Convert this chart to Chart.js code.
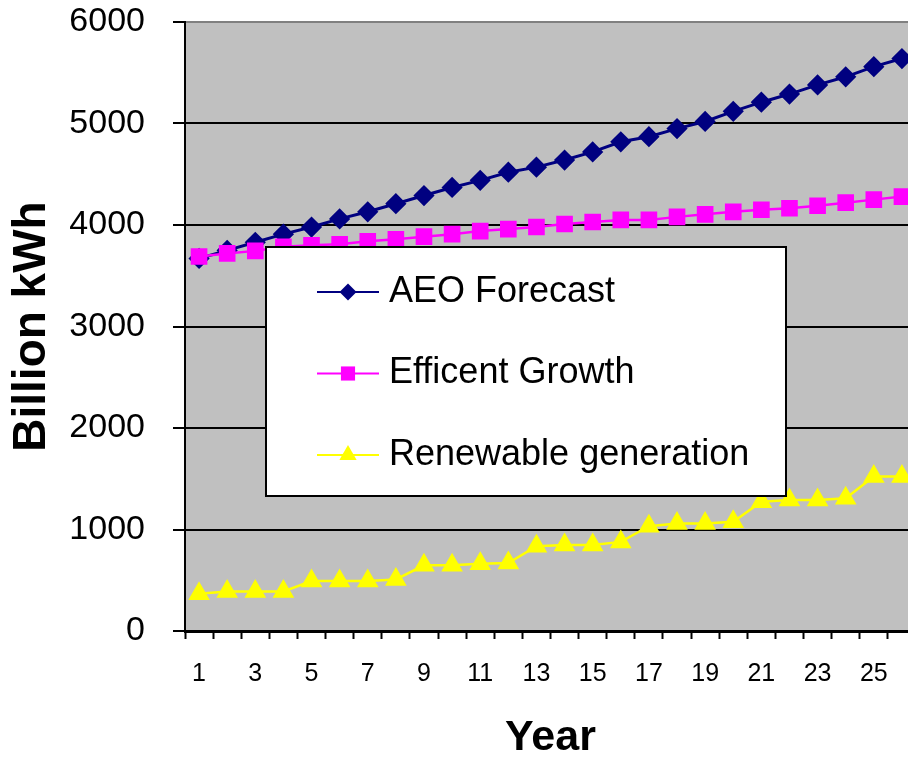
<!DOCTYPE html>
<html>
<head>
<meta charset="utf-8">
<script src="https://cdn.jsdelivr.net/npm/chart.js@4.4.1/dist/chart.umd.min.js"></script>
<style>
  html, body { margin: 0; padding: 0; background: #fff; overflow: hidden; }
  #energyChart { position: absolute; left: 0; top: 0; }
</style>
</head>
<body>
<canvas id="energyChart" width="916" height="760"></canvas>
<script>
// data
const years = [1,2,3,4,5,6,7,8,9,10,11,12,13,14,15,16,17,18,19,20,21,22,23,24,25,26];
const aeoForecast = [3670,3750,3830,3910,3980,4060,4130,4210,4290,4370,4440,4520,4570,4640,4720,4820,4870,4950,5020,5120,5210,5290,5380,5460,5560,5640];
const efficientGrowth = [3690,3720,3745,3785,3800,3810,3840,3860,3885,3910,3940,3960,3980,4010,4030,4050,4050,4080,4105,4130,4150,4165,4190,4220,4250,4280];
const renewableGen = [366,389,389,389,492,492,492,508,647,647,663,670,835,848,848,878,1033,1059,1059,1076,1274,1290,1290,1307,1521,1521];
const yTicks = [0,1000,2000,3000,4000,5000,6000];

const FONT = "'Liberation Sans', Arial, sans-serif";

// grey plot background
const plotBg = {
    id: 'plotBg',
    beforeDraw(chart) {
        const a = chart.chartArea;
        const ctx = chart.ctx;
        ctx.save();
        ctx.fillStyle = '#C0C0C0';
        ctx.fillRect(a.left, a.top, a.right - a.left, a.bottom - a.top);
        ctx.restore();
    }
};

function marker(ctx, style, x, y, r) {
    ctx.beginPath();
    if (style === 'rectRot') {
        ctx.moveTo(x - r, y); ctx.lineTo(x, y - r); ctx.lineTo(x + r, y); ctx.lineTo(x, y + r);
    } else if (style === 'rect') {
        const s = r * 0.707;
        ctx.rect(x - s, y - s, s * 2, s * 2);
    } else {
        ctx.moveTo(x, y - r); ctx.lineTo(x + r * 0.866, y + r * 0.5); ctx.lineTo(x - r * 0.866, y + r * 0.5);
    }
    ctx.closePath();
    ctx.fill();
}

// legend box sitting inside the plot
const legendBox = {
    id: 'legendBox',
    afterDraw(chart, args, o) {
        const ctx = chart.ctx;
        ctx.save();
        ctx.fillStyle = '#fff';
        ctx.strokeStyle = '#000';
        ctx.lineWidth = 2;
        ctx.fillRect(o.x, o.y, o.w, o.h);
        ctx.strokeRect(o.x, o.y, o.w, o.h);
        chart.data.datasets.forEach(function (ds, i) {
            const y = o.y + o.firstRow + i * o.rowGap;
            ctx.strokeStyle = ds.borderColor;
            ctx.lineWidth = 2;
            ctx.beginPath();
            ctx.moveTo(o.x + 51, y);
            ctx.lineTo(o.x + 113, y);
            ctx.stroke();
            ctx.fillStyle = ds.backgroundColor;
            marker(ctx, ds.pointStyle, o.x + 82, y, ds.pointRadius);
            ctx.fillStyle = '#000';
            ctx.font = '36px ' + FONT;
            ctx.textBaseline = 'middle';
            ctx.textAlign = 'left';
            ctx.fillText(ds.label, o.x + 123, y);
        });
        ctx.restore();
    }
};

const ctx = document.getElementById('energyChart').getContext('2d');
new Chart(ctx, {
    type: 'line',
    data: {
        labels: years,
        datasets: [
            {
                label: 'AEO Forecast',
                data: aeoForecast,
                borderColor: '#000080',
                backgroundColor: '#000080',
                borderWidth: 3,
                pointStyle: 'rectRot',
                pointRadius: 8.5,
                order: 2
            },
            {
                label: 'Efficent Growth',
                data: efficientGrowth,
                borderColor: '#FF00FF',
                backgroundColor: '#FF00FF',
                borderWidth: 2.5,
                pointStyle: 'rect',
                pointRadius: 10,
                order: 1
            },
            {
                label: 'Renewable generation',
                data: renewableGen,
                borderColor: '#FFFF00',
                backgroundColor: '#FFFF00',
                borderWidth: 2.5,
                pointStyle: 'triangle',
                pointRadius: 10,
                order: 3
            }
        ]
    },
    options: {
        responsive: false,
        animation: false,
        layout: { autoPadding: false, padding: { top: 22, right: 0, bottom: 0, left: 0 } },
        elements: {
            line: { tension: 0 },
            point: { borderWidth: 0, hoverRadius: 8 }
        },
        plugins: {
            legend: { display: false },
            tooltip: { enabled: false },
            legendBox: { x: 266, y: 247, w: 520, h: 249, firstRow: 45, rowGap: 81.5 }
        },
        scales: {
            x: {
                offset: true,
                grid: {
                    offset: true,
                    drawOnChartArea: false,
                    tickLength: 8,
                    tickColor: '#000',
                    tickWidth: 2
                },
                border: { color: '#000', width: 3 },
                ticks: {
                    autoSkip: false,
                    maxRotation: 0,
                    padding: 20,
                    color: '#000',
                    font: { family: FONT, size: 25 },
                    callback: function (val, idx) {
                        return idx % 2 === 0 ? String(years[idx]) : '';
                    }
                },
                title: {
                    display: true,
                    text: 'Year',
                    color: '#000',
                    padding: { top: 0, bottom: 0 },
                    font: { family: FONT, size: 43, weight: 'bold', lineHeight: 1 }
                },
                afterFit: function (scale) {
                    scale.height = 129;
                    scale.paddingLeft = 0;
                    scale.paddingRight = 0;
                }
            },
            y: {
                min: 0,
                max: 6000,
                afterBuildTicks: function (scale) {
                    scale.ticks = yTicks.map(v => ({ value: v }));
                },
                grid: {
                    color: c => (c.tick && c.tick.value === 6000) ? '#808080' : '#000',
                    lineWidth: 2,
                    tickLength: 12,
                    tickColor: '#000',
                    tickWidth: 2
                },
                border: { color: '#000', width: 2 },
                ticks: {
                    padding: 28,
                    color: '#000',
                    font: { family: FONT, size: 34, lineHeight: 1 },
                    callback: v => String(v)
                },
                title: {
                    display: true,
                    text: 'Billion kWh',
                    color: '#000',
                    padding: { top: 9, bottom: 0 },
                    font: { family: FONT, size: 46, weight: 'bold', lineHeight: 1 }
                },
                afterFit: function (scale) {
                    scale.width = 185;
                    scale.paddingTop = 0;
                    scale.paddingBottom = 0;
                }
            }
        }
    },
    plugins: [plotBg, legendBox]
});
</script>
</body>
</html>
